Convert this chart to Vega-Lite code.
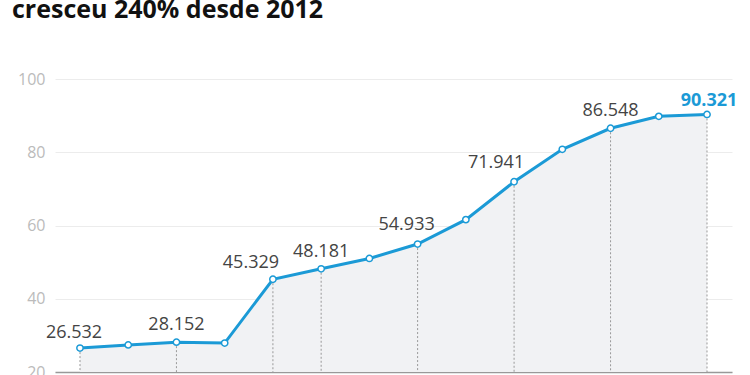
{
  "$schema": "https://vega.github.io/schema/vega-lite/v6.json",
  "width": 677,
  "height": 293,
  "autosize": {"type": "none"},
  "padding": {"left": 55, "top": 79, "right": 18, "bottom": 3},
  "background": "white",
  "title": {
    "text": "cresceu 240% desde 2012",
    "anchor": "start",
    "frame": "group",
    "dx": -43,
    "offset": 48,
    "fontSize": 25,
    "font": "Open Sans",
    "fontWeight": "bold",
    "color": "#111111"
  },
  "config": {"view": {"stroke": null}, "font": "Open Sans"},
  "data": {
    "values": [
      {"ano": 2012, "v": 26.532, "label": "26.532"},
      {"ano": 2013, "v": 27.4, "label": null},
      {"ano": 2014, "v": 28.152, "label": "28.152"},
      {"ano": 2015, "v": 27.9, "label": null},
      {"ano": 2016, "v": 45.329, "label": "45.329"},
      {"ano": 2017, "v": 48.181, "label": "48.181"},
      {"ano": 2018, "v": 51.0, "label": null},
      {"ano": 2019, "v": 54.933, "label": "54.933"},
      {"ano": 2020, "v": 61.6, "label": null},
      {"ano": 2021, "v": 71.941, "label": "71.941"},
      {"ano": 2022, "v": 80.8, "label": null},
      {"ano": 2023, "v": 86.548, "label": "86.548"},
      {"ano": 2024, "v": 89.8, "label": null},
      {"ano": 2025, "v": 90.321, "label": "90.321"}
    ]
  },
  "encoding": {
    "x": {
      "field": "ano",
      "type": "quantitative",
      "scale": {"domain": [2011.482, 2025.518], "nice": false, "zero": false},
      "axis": {"title": null, "labels": false, "ticks": false, "grid": false, "domainColor": "#999999", "domainWidth": 1.5}
    },
    "y": {
      "field": "v",
      "type": "quantitative",
      "scale": {"domain": [20, 100], "nice": false, "zero": false},
      "axis": {
        "title": null,
        "values": [20, 40, 60, 80, 100],
        "labelColor": "#bbbbbb",
        "labelFontSize": 16,
        "labelFont": "Open Sans",
        "labelPadding": 10,
        "ticks": false,
        "domain": false,
        "gridColor": "#ececec"
      }
    }
  },
  "layer": [
    {
      "mark": {"type": "area", "color": "#f1f2f4"},
      "encoding": {"y2": {"datum": 20}}
    },
    {
      "transform": [{"filter": "datum.label != null"}],
      "mark": {"type": "rule", "color": "#999999", "strokeWidth": 1, "strokeDash": [2, 2]},
      "encoding": {"y2": {"datum": 20}}
    },
    {
      "mark": {"type": "line", "color": "#1b9ad6", "strokeWidth": 3},
      "encoding": {}
    },
    {
      "mark": {"type": "point", "shape": "circle", "filled": false, "fill": "white", "fillOpacity": 1, "stroke": "#1b9ad6", "strokeWidth": 1.5, "size": 40, "opacity": 1},
      "encoding": {}
    },
    {
      "transform": [{"filter": "datum.ano == 2014 || datum.ano == 2017 || datum.ano == 2023"}],
      "mark": {"type": "text", "dy": -17, "fontSize": 18, "color": "#444444", "font": "Open Sans"},
      "encoding": {"text": {"field": "label"}}
    },
    {
      "transform": [{"filter": "datum.ano == 2012"}],
      "mark": {"type": "text", "dx": -6, "dy": -15, "fontSize": 18, "color": "#444444", "font": "Open Sans"},
      "encoding": {"text": {"field": "label"}}
    },
    {
      "transform": [{"filter": "datum.ano == 2016"}],
      "mark": {"type": "text", "dx": -22, "dy": -16, "fontSize": 18, "color": "#444444", "font": "Open Sans"},
      "encoding": {"text": {"field": "label"}}
    },
    {
      "transform": [{"filter": "datum.ano == 2019"}],
      "mark": {"type": "text", "dx": -11, "dy": -19, "fontSize": 18, "color": "#444444", "font": "Open Sans"},
      "encoding": {"text": {"field": "label"}}
    },
    {
      "transform": [{"filter": "datum.ano == 2021"}],
      "mark": {"type": "text", "dx": -18, "dy": -19, "fontSize": 18, "color": "#444444", "font": "Open Sans"},
      "encoding": {"text": {"field": "label"}}
    },
    {
      "transform": [{"filter": "datum.ano == 2025"}],
      "mark": {"type": "text", "dx": 2, "dy": -13, "fontSize": 18, "fontWeight": "bold", "color": "#1b9ad6", "font": "Open Sans"},
      "encoding": {"text": {"field": "label"}}
    }
  ]
}
